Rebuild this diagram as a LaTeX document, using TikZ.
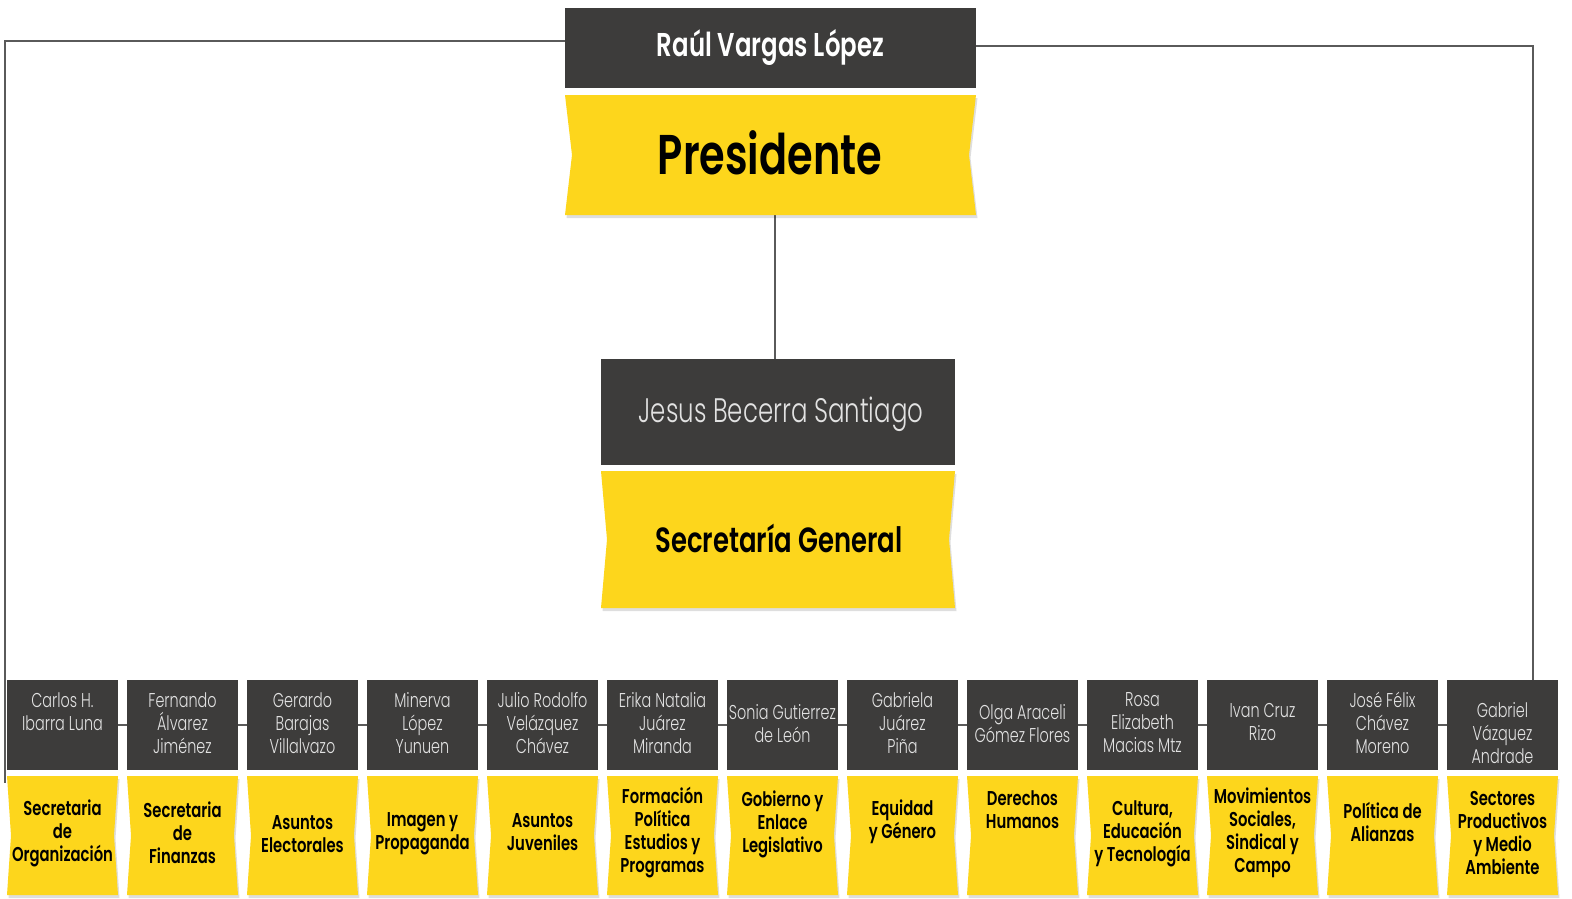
\documentclass[tikz,border=0pt]{standalone}
\usepackage{fontspec}
\setmainfont{Poppins}
\newfontfamily\fb{Poppins SemiBold}[FakeStretch=0.74]
\newfontfamily\fl{Poppins Light}[FakeStretch=0.72]
\usetikzlibrary{calc,backgrounds}
\definecolor{ylw}{HTML}{FDD61C}
\definecolor{drk}{HTML}{3D3C3B}
\definecolor{lnc}{HTML}{5A5A5A}
\definecolor{nmc}{HTML}{E2E2E2}
\newcommand\YB[6]{%
  \fill[black,opacity=0.13] (#2+1.5,#3+3) -- (#4+1.5,#3+3) -- ({#4+1.5-#6},{(#3+#5)/2+3}) -- (#4+1.5,#5+3) -- (#2+1.5,#5+3) -- ({#2+1.5+#6},{(#3+#5)/2+3}) -- cycle;
  \fill[ylw] (#2,#3) -- (#4,#3) -- ({#4-#6},{(#3+#5)/2}) -- (#4,#5) -- (#2,#5) -- ({#2+#6},{(#3+#5)/2}) -- cycle;
  \node[inner sep=0,outer sep=0,minimum width={#4-#2},minimum height={#5-#3}] (#1) at ({(#2+#4)/2},{(#3+#5)/2}) {};}
\tikzset{
  dark/.style={fill=drk,inner sep=0,outer sep=0},
  conn/.style={draw=lnc,line width=2pt},
  nm/.style={text=nmc,align=center,inner sep=0,font=\fl\fontsize{20}{23}\selectfont},
  ps/.style={text=black,align=center,inner sep=0,font=\fb\fontsize{20}{23}\selectfont},
}
\begin{document}
\begin{tikzpicture}[x=1pt,y=-1pt]
\useasboundingbox (0,0) rectangle (1572,898);
% top
\node[dark,minimum width=411pt,minimum height=80pt] (raul) at (770.5,48) {};
\node[text=white,inner sep=0,font=\fb\fontsize{33}{36}\selectfont] (rault) at (770.5,47) {Raúl Vargas López};
\YB{pres}{565}{95}{976}{215}{7}
\node[inner sep=0,font=\fb\fontsize{56}{60}\selectfont] (prest) at (770,153) {Presidente};
% secretaria general
\node[dark,minimum width=354pt,minimum height=106pt] (jesus) at (778,412) {};
\node[text=nmc,inner sep=0,font=\fl\fontsize{34}{38}\selectfont] (jesust) at (781,414) {Jesus Becerra Santiago};
\YB{secg}{601}{471}{955}{608}{6}
\node[inner sep=0,font=\fb\fontsize{35}{38}\selectfont] (secgt) at (779,538) {Secretaría General};
% bottom row
\foreach \i/\nm/\ny/\pos/\py in {
 1/{Carlos H.\\Ibarra Luna}/712/{Secretaria\\de\\Organización}/833,
 2/{Fernando\\Álvarez\\Jiménez}/723/{Secretaria\\de\\Finanzas}/833,
 3/{Gerardo\\Barajas\\Villalvazo}/723/{Asuntos\\Electorales}/834,
 4/{Minerva\\López\\Yunuen}/723/{Imagen y\\Propaganda}/834,
 5/{Julio Rodolfo\\Velázquez\\Chávez}/723/{Asuntos\\Juveniles}/832,
 6/{Erika Natalia\\Juárez\\Miranda}/723/{Formación\\Política\\Estudios y\\Programas}/833,
 7/{Sonia Gutierrez\\de León}/724/{Gobierno y\\Enlace\\Legislativo}/824,
 8/{Gabriela\\Juárez\\Piña}/723/{Equidad\\y Género}/822,
 9/{Olga Araceli\\Gómez Flores}/724/{Derechos\\Humanos}/810,
 10/{Rosa\\Elizabeth\\Macias Mtz}/723/{Cultura,\\Educación\\y Tecnología}/834,
 11/{Ivan Cruz\\Rizo}/722/{Movimientos\\Sociales,\\Sindical y\\Campo}/833,
 12/{José Félix\\Chávez\\Moreno}/723/{Política de\\Alianzas}/822,
 13/{Gabriel\\Vázquez\\Andrade}/733/{Sectores\\Productivos\\y Medio\\Ambiente}/833}{
  \pgfmathsetmacro\xa{7+120*(\i-1)}
  \pgfmathsetmacro\xb{\xa+111}
  \pgfmathsetmacro\xc{\xa+55.5}
  \node[dark,minimum width=111pt,minimum height=90pt] (d\i) at (\xc,725) {};
  \node[nm] (dt\i) at (\xc,\ny) {\nm};
  \YB{y\i}{\xa}{776}{\xb}{895}{4}
  \node[ps] (yt\i) at (\xc,\py) {\pos};
}
\coordinate (cl) at (5,783);
\coordinate (cr) at (1533,680);
\coordinate (cv) at (775,0);
\begin{scope}[on background layer]
  \fill[white] (0,0) rectangle (1572,898);
  \draw[conn] ($(raul.north west)+(0,33)$) -| (cl);
  \draw[conn] ($(raul.north east)+(0,38)$) -| (cr);
  \draw[conn] (pres.south -| cv) -- (jesus.north -| cv);
  \foreach \i [evaluate=\i as \j using int(\i+1)] in {1,...,12}{
    \draw[conn] (d\i.east) -- (d\j.west);
  }
\end{scope}
\end{tikzpicture}
\end{document}
